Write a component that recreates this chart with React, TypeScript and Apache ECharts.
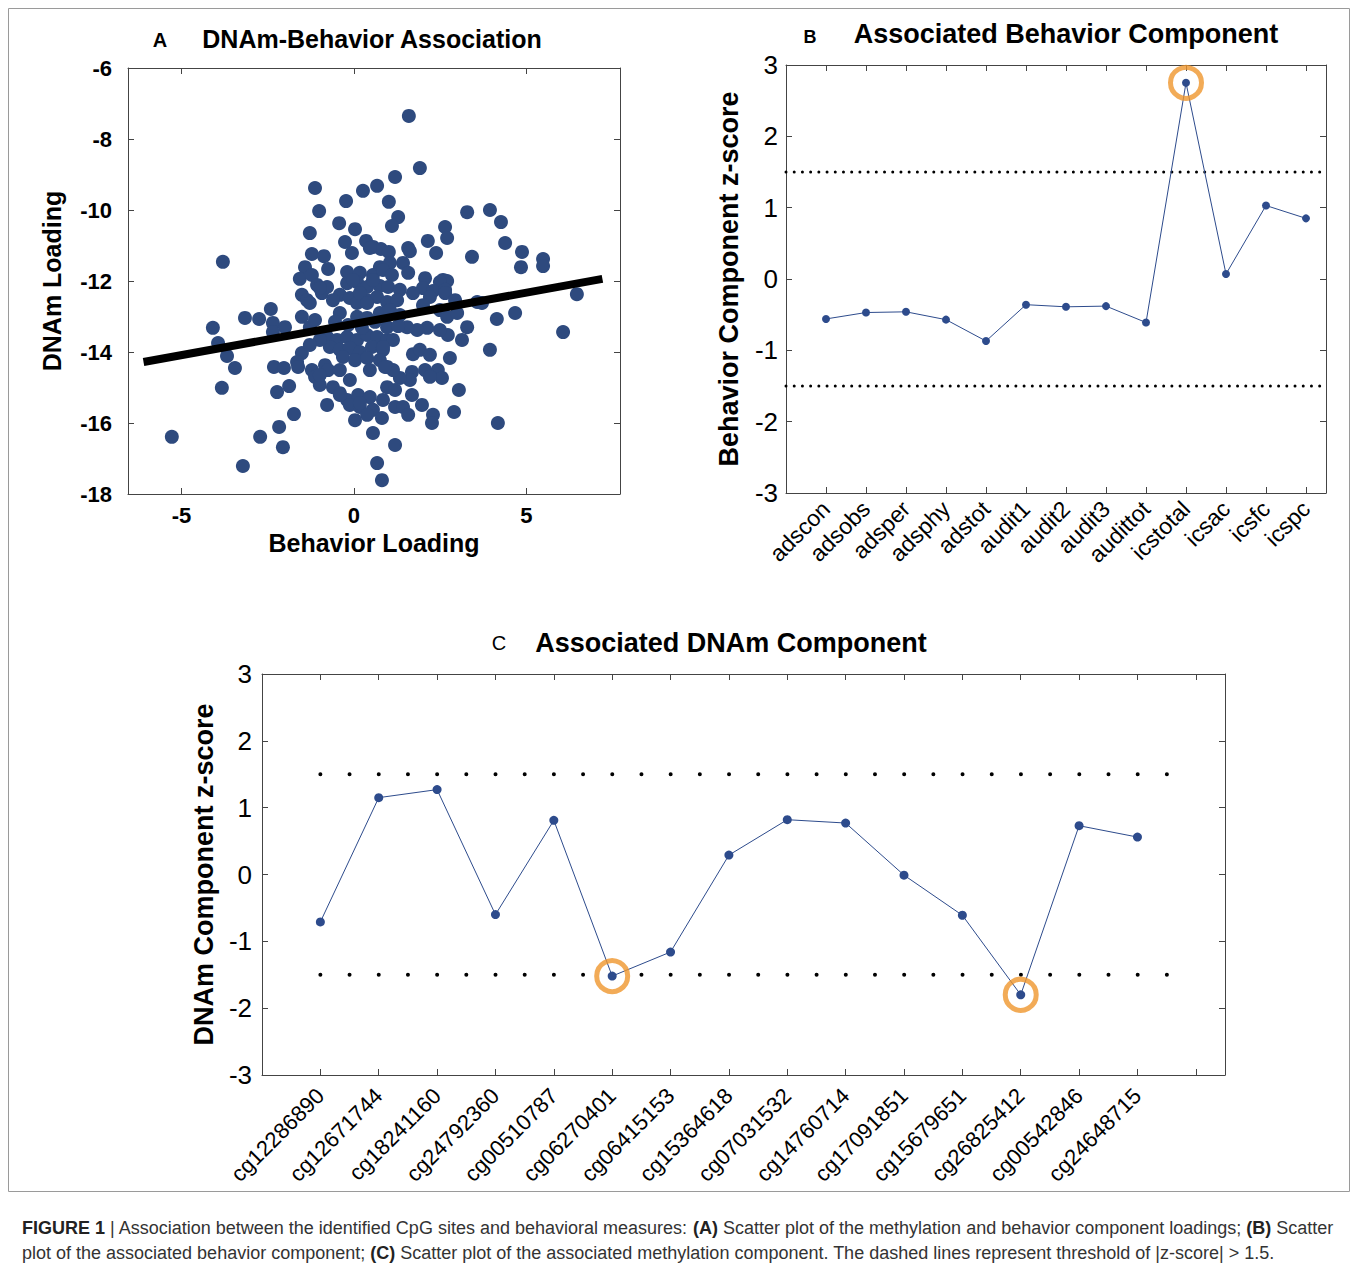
import React, { useEffect, useRef } from "react";
import * as echarts from "echarts";

// ---------- Panel A data ----------
const behaviorLoading = [
  -1.13, 0.26, 0.67, -0.23, -1.01, -0.43, 0.03, -1.28, -0.26, 0.35,
  0.55, -0.06, -1.22, -0.87, -3.8, -1.42, -0.75, -0.2, -1.57, 1.59,
  1.91, 1.19, 1.01, 1.28, 1.1, 3.28, 3.94, 4.26, 2.64, 2.7,
  2.14, 4.38, 0.78, 1.01, 1.57, 1.62, 2.38, 3.42, 4.87, 5.48,
  5.48, 4.84, 0.75, 1.04, 1.42, 2.06, 2.58, 2.7, 0.46, 0.17,
  0.55, 0.84, -1.22, -1.51, -0.93, -1.07, -0.78, -0.2, 0.09, 0.38,
  0.75, 1.57, 1.1, 0.99, 1.33, 2.49, 2.0, 2.29, 2.64, -3.16,
  -2.75, -2.41, -2.35, -2.0, -2.35, -1.51, -1.28, -1.36, -0.41, -0.12,
  0.09, 0.38, 0.67, 0.96, -0.41, 0.09, 0.38, 0.75, -0.78, -0.49,
  -0.2, 0.09, 0.38, 0.67, 0.96, -0.7, -0.41, -0.12, 0.17, 0.52,
  0.84, -0.32, 0.03, 0.38, 0.75, 0.96, -1.51, -1.65, -2.32, -2.03,
  -1.62, -1.22, -1.13, -0.99, -0.84, -0.75, -1.88, -2.23, -0.61, -0.41,
  -0.2, -0.12, -0.78, 0.12, 0.17, 0.46, 0.55, 0.81, 0.38, -1.74,
  -2.17, -2.72, 0.03, 0.55, 0.84, 3.57, 3.71, 4.14, 4.67, 3.94,
  2.78, 3.04, 2.9, 2.29, 2.26, 4.17, 1.97, 1.68, 1.71, 3.28,
  3.13, 2.72, 2.49, 2.12, 1.83, 1.54, 2.06, 2.43, 2.55, 2.2,
  1.68, 1.62, 1.33, 1.13, 0.9, 0.96, 1.19, 1.42, 1.57, 1.25,
  1.71, 2.2, 2.64, 2.0, 2.49, 2.7, 2.99, 1.04, 1.33, 0.96,
  1.13, 0.84, -5.28, -3.22, -2.06, -3.83, -4.09, -3.94, -3.68, -3.45,
  -1.28, -0.99, -0.61, -0.03, 0.55, 0.17, 0.38, -0.99, -0.41, 0.17,
  0.67, 0.81, 6.46, 6.06, 1.19,
  -0.55, -0.17, 0.23, 0.61, 1.28, -0.99, -1.28, -1.13, 0.46, -0.12, 1.19, -0.41, 1.91, 2.2, 2.93,
];
const dnamLoading = [
  -9.38, -9.46, -9.32, -9.75, -10.03, -10.37, -10.54, -10.65, -10.9, -10.87,
  -11.04, -11.21, -11.24, -11.3, -11.46, -11.61, -11.66, -11.75, -11.94, -7.35,
  -8.82, -9.07, -9.77, -10.2, -10.45, -10.06, -10.0, -10.34, -10.48, -10.79,
  -10.87, -10.93, -11.1, -11.18, -11.07, -11.16, -11.21, -11.32, -11.18, -11.38,
  -11.58, -11.61, -11.61, -11.49, -11.49, -11.92, -11.97, -12.0, -11.07, -11.77,
  -11.83, -11.69, -11.83, -12.39, -12.34, -12.11, -12.17, -12.06, -12.03, -12.17,
  -12.14, -11.77, -11.83, -12.17, -12.25, -12.03, -12.2, -12.28, -12.25, -13.04,
  -13.07, -12.79, -13.18, -13.3, -13.44, -13.01, -13.3, -12.54, -12.39, -12.48,
  -12.62, -12.54, -12.45, -12.59, -12.9, -13.01, -13.04, -12.9, -13.58, -13.66,
  -13.58, -13.66, -13.52, -13.58, -13.66, -13.86, -13.94, -13.89, -14.0, -13.86,
  -13.94, -14.14, -14.23, -14.17, -14.23, -14.42, -14.03, -14.28, -14.42, -14.45,
  -14.42, -14.51, -14.7, -14.93, -14.37, -14.51, -14.96, -15.13, -14.99, -15.16,
  -15.35, -15.49, -15.49, -15.21, -15.55, -15.27, -15.63, -15.86, -15.77, -15.75,
  -16.11, -16.39, -15.92, -16.28, -15.35, -12.59, -12.62, -13.07, -12.9, -13.94,
  -14.17, -15.07, -15.69, -15.77, -16.0, -16.0, -15.49, -15.21, -14.06, -13.3,
  -13.66, -13.52, -13.38, -13.32, -13.38, -13.3, -14.51, -14.51, -14.73, -14.7,
  -14.56, -14.79, -14.73, -14.51, -14.42, -14.99, -15.55, -15.55, -15.77, -12.54,
  -12.34, -12.45, -12.34, -12.68, -12.82, -13.01, -12.9, -12.82, -12.96, -13.3,
  -13.66, -13.86, -16.39, -17.21, -16.68, -15.01, -13.32, -13.75, -14.11, -14.45,
  -12.62, -12.2, -12.54, -11.97, -11.97, -12.34, -12.62, -14.65, -15.21, -15.44,
  -17.13, -17.61, -12.37, -13.44, -16.62,
  -13.15, -13.24, -13.32, -13.15, -13.27, -13.66, -13.8, -13.1, -14.51, -14.79, -15.07, -14.51, -13.94, -14.08, -12.54,
];
const fitLineX = [-6.1, 7.2];
const fitLineY = [-14.28, -11.94];
const aXTicks = [-5, 0, 5];

// ---------- Panel B data ----------
const behaviorMeasures = [
  "adscon", "adsobs", "adsper", "adsphy", "adstot", "audit1", "audit2",
  "audit3", "audittot", "icstotal", "icsac", "icsfc", "icspc",
];
const behaviorZ = [-0.56, -0.47, -0.46, -0.57, -0.87, -0.36, -0.39, -0.38, -0.61, 2.75, 0.07, 1.03, 0.85];
const behaviorHighlight = ["icstotal"];

// ---------- Panel C data ----------
const cpgSites = [
  "cg12286890", "cg12671744", "cg18241160", "cg24792360", "cg00510787",
  "cg06270401", "cg06415153", "cg15364618", "cg07031532", "cg14760714",
  "cg17091851", "cg15679651", "cg26825412", "cg00542846", "cg24648715",
];
const dnamZ = [-0.71, 1.15, 1.27, -0.6, 0.81, -1.52, -1.16, 0.29, 0.82, 0.77, -0.01, -0.61, -1.8, 0.73, 0.56];
const dnamHighlight = ["cg06270401", "cg26825412"];

const zThreshold = 1.5;

// ---------- styles ----------
const FONT = "'Liberation Sans', Arial, Helvetica, sans-serif";
const AXIS_COLOR = "#444";
const DOT_BLUE = "#2e4a7e";
const LINE_BLUE = "#2d4b8c";
const ORANGE = "#ef962d";

const range = (a: number, b: number) => {
  const r: number[] = [];
  for (let i = a; i <= b; i++) r.push(i);
  return r;
};

function xAxisPair(gridIndex: number, min: number, max: number, ticks: number[], label: any, name?: string, nameGap?: number, nameSize?: number) {
  const common = {
    type: "value",
    gridIndex,
    min,
    max,
    splitLine: { show: false },
    axisLine: { show: true, onZero: false, lineStyle: { color: AXIS_COLOR, width: 1 } },
    axisTick: { show: true, inside: true, length: 6, customValues: ticks, lineStyle: { color: AXIS_COLOR } },
  };
  return [
    {
      ...common,
      position: "bottom",
      axisLabel: { ...label, fontFamily: FONT, color: "#000" },
      name,
      nameLocation: "middle",
      nameGap,
      nameTextStyle: { fontFamily: FONT, fontWeight: "bold", fontSize: nameSize, color: "#000" },
    },
    { ...common, position: "top", axisLabel: { show: false } },
  ];
}

function yAxisPair(gridIndex: number, min: number, max: number, interval: number, label: any, name: string, nameGap: number, nameSize: number) {
  const common = {
    type: "value",
    gridIndex,
    min,
    max,
    interval,
    splitLine: { show: false },
    axisLine: { show: true, onZero: false, lineStyle: { color: AXIS_COLOR, width: 1 } },
    axisTick: { show: true, inside: true, length: 6, lineStyle: { color: AXIS_COLOR } },
  };
  return [
    {
      ...common,
      position: "left",
      axisLabel: { ...label, fontFamily: FONT, color: "#000" },
      name,
      nameLocation: "middle",
      nameGap,
      nameTextStyle: { fontFamily: FONT, fontWeight: "bold", fontSize: nameSize, color: "#000" },
    },
    { ...common, position: "right", axisLabel: { show: false } },
  ];
}

function buildOption() {
  const scatterData = behaviorLoading.map((x, i) => [x, dnamLoading[i]]);
  const fitData = fitLineX.map((x, i) => [x, fitLineY[i]]);
  const bData = behaviorZ.map((v, i) => [i, v]);
  const bRing = behaviorHighlight.map((n) => {
    const i = behaviorMeasures.indexOf(n);
    return [i, behaviorZ[i]];
  });
  const cData = dnamZ.map((v, i) => [i, v]);
  const cRing = dnamHighlight.map((n) => {
    const i = cpgSites.indexOf(n);
    return [i, dnamZ[i]];
  });
  const bLast = behaviorMeasures.length - 1;
  const cLast = cpgSites.length; // one extra tick past the last site

  const xA = xAxisPair(0, -6.55, 7.71, aXTicks,
    { customValues: aXTicks, fontSize: 22, fontWeight: "bold", margin: 10 },
    "Behavior Loading", 36, 25);
  const xB = xAxisPair(1, -1, 12.5, range(0, bLast),
    { customValues: range(0, bLast), fontSize: 23, rotate: 45, margin: 12,
      formatter: (v: number) => behaviorMeasures[Math.round(v)] ?? "" });
  const xC = xAxisPair(2, -1, 15.5, range(0, cLast),
    { customValues: range(0, cpgSites.length - 1), fontSize: 22, rotate: 45, margin: 17,
      formatter: (v: number) => cpgSites[Math.round(v)] ?? "" });

  const yA = yAxisPair(0, -18, -6, 2, { fontSize: 22, fontWeight: "bold", margin: 16 }, "DNAm Loading", 64, 25);
  const yB = yAxisPair(1, -3, 3, 1, { fontSize: 26, margin: 8 }, "Behavior Component z-score", 44, 27);
  const yC = yAxisPair(2, -3, 3, 1, { fontSize: 26, margin: 10 }, "DNAm Component z-score", 44, 27);

  const threshold = (xi: number, yi: number, x0: number, x1: number, v: number, w: number, gap: number) => ({
    type: "line",
    xAxisIndex: xi,
    yAxisIndex: yi,
    data: [[x0, v], [x1, v]],
    showSymbol: false,
    symbol: "none",
    silent: true,
    lineStyle: { color: "#000", width: w, type: [0.01, gap], cap: "round" },
    z: 1,
  });

  const text = (x: number, y: number, t: string, size: number, bold: boolean) => ({
    type: "text",
    x,
    y,
    style: {
      text: t,
      fontSize: size,
      fontWeight: bold ? "bold" : "normal",
      fontFamily: FONT,
      fill: "#000",
      textAlign: "center",
      align: "center",
      textVerticalAlign: "middle",
      verticalAlign: "middle",
    },
  });

  const capN = { fontSize: 18, fontFamily: FONT, fill: "#333", fontWeight: "normal" };
  const capB = { fontSize: 18, fontFamily: FONT, fill: "#222", fontWeight: "bold" };

  return {
    animation: false,
    backgroundColor: "#fff",
    textStyle: { fontFamily: FONT },
    grid: [
      { left: 128, top: 68, width: 492, height: 426 },
      { left: 786, top: 65, width: 540, height: 428 },
      { left: 262, top: 674, width: 963, height: 401 },
    ],
    xAxis: [...xA, ...xB, ...xC],
    yAxis: [...yA, ...yB, ...yC],
    series: [
      {
        type: "scatter",
        xAxisIndex: 0,
        yAxisIndex: 0,
        data: scatterData,
        symbolSize: 14,
        itemStyle: { color: DOT_BLUE, opacity: 1 },
        z: 2,
      },
      {
        type: "line",
        xAxisIndex: 0,
        yAxisIndex: 0,
        data: fitData,
        showSymbol: false,
        symbol: "none",
        lineStyle: { color: "#000", width: 8, cap: "butt" },
        z: 3,
      },
      threshold(2, 2, -1, 12.5, zThreshold, 3, 8.2),
      threshold(2, 2, -1, 12.5, -zThreshold, 3, 8.2),
      {
        type: "line",
        xAxisIndex: 2,
        yAxisIndex: 2,
        data: bData,
        symbol: "circle",
        symbolSize: 8,
        itemStyle: { color: LINE_BLUE },
        lineStyle: { color: LINE_BLUE, width: 1 },
        z: 3,
      },
      {
        type: "scatter",
        xAxisIndex: 2,
        yAxisIndex: 2,
        data: bRing,
        symbol: "circle",
        symbolSize: 31,
        itemStyle: { color: "rgba(0,0,0,0)", borderColor: ORANGE, borderWidth: 5 },
        z: 4,
      },
      threshold(4, 4, 0, cLast, zThreshold, 4, 29.18),
      threshold(4, 4, 0, cLast, -zThreshold, 4, 29.18),
      {
        type: "line",
        xAxisIndex: 4,
        yAxisIndex: 4,
        data: cData,
        symbol: "circle",
        symbolSize: 9,
        itemStyle: { color: LINE_BLUE },
        lineStyle: { color: LINE_BLUE, width: 1 },
        z: 3,
      },
      {
        type: "scatter",
        xAxisIndex: 4,
        yAxisIndex: 4,
        data: cRing,
        symbol: "circle",
        symbolSize: 31,
        itemStyle: { color: "rgba(0,0,0,0)", borderColor: ORANGE, borderWidth: 5 },
        z: 4,
      },
    ],
    graphic: [
      {
        type: "rect",
        shape: { x: 8.5, y: 8.5, width: 1341, height: 1183 },
        style: { fill: "none", stroke: "#9a9a9a", lineWidth: 1 },
        silent: true,
        z: -10,
      },
      text(160, 40, "A", 20, true),
      text(372, 39, "DNAm-Behavior Association", 25, true),
      text(810, 37, "B", 18, true),
      text(1066, 34, "Associated Behavior Component", 27, true),
      text(499, 643, "C", 20, false),
      text(731, 643, "Associated DNAm Component", 27, true),
      {
        type: "text",
        left: 22,
        top: 1215,
        style: {
          text:
            "{b|FIGURE 1}{n| | Association between the identified CpG sites and behavioral measures: }{b|(A)}{n| Scatter plot of the methylation and behavior component loadings; }{b|(B)}{n| Scatter}\n" +
            "{n|plot of the associated behavior component; }{b|(C)}{n| Scatter plot of the associated methylation component. The dashed lines represent threshold of |z-score| > 1.5.}",
          fontSize: 18,
          fontFamily: FONT,
          fill: "#333",
          lineHeight: 25,
          rich: {
            n: { ...capN, lineHeight: 25 },
            b: { ...capB, lineHeight: 25 },
          },
        },
      },
    ],
  };
}

export default function App() {
  const ref = useRef<HTMLDivElement>(null);
  useEffect(() => {
    if (!ref.current) return;
    const chart = echarts.init(ref.current, null, { renderer: "svg" });
    chart.setOption(buildOption() as any);
    return () => chart.dispose();
  }, []);
  return (
    <div
      ref={ref}
      style={{ position: "absolute", left: 0, top: 0, width: 1358, height: 1271, background: "#fff" }}
    />
  );
}
